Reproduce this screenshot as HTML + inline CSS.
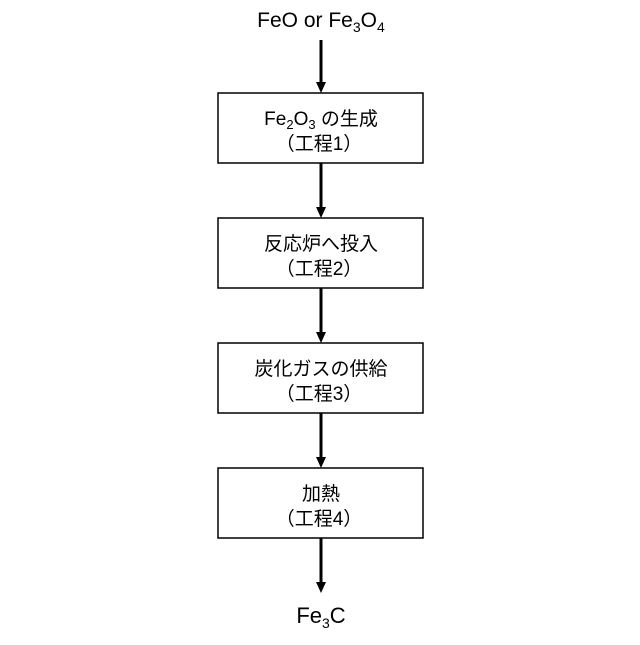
<!DOCTYPE html>
<html><head><meta charset="utf-8"><style>
body{margin:0;background:#fff;}
svg text{font-family:"Liberation Sans","Noto Sans CJK JP",sans-serif;fill:#000;}
</style></head><body>
<svg width="640" height="640" viewBox="0 0 640 640" xmlns="http://www.w3.org/2000/svg">
<g stroke="#000" stroke-width="3">
<line x1="321" y1="40" x2="321" y2="84"/>
<line x1="321" y1="163" x2="321" y2="209"/>
<line x1="321" y1="288" x2="321" y2="334"/>
<line x1="321" y1="413" x2="321" y2="459"/>
<line x1="321" y1="538" x2="321" y2="584"/>
</g>
<g fill="#000">
<polygon points="316,82 326,82 321,93"/>
<polygon points="316,207 326,207 321,218"/>
<polygon points="316,332 326,332 321,343"/>
<polygon points="316,457 326,457 321,468"/>
<polygon points="316,582 326,582 321,593"/>
</g>
<g fill="#fff" stroke="#000" stroke-width="1.5">
<rect x="218" y="93" width="205" height="70"/>
<rect x="218" y="218" width="205" height="70"/>
<rect x="218" y="343" width="205" height="70"/>
<rect x="218" y="468" width="205" height="70"/>
</g>
<text x="321" y="27" font-size="21" text-anchor="middle">FeO or Fe<tspan font-size="14" dy="5">3</tspan><tspan dy="-5">O</tspan><tspan font-size="14" dy="5">4</tspan></text>
<g font-size="19" text-anchor="middle">
<text x="321" y="125">Fe<tspan font-size="13" dy="4">2</tspan><tspan dy="-4">O</tspan><tspan font-size="13" dy="4">3</tspan><tspan dy="-4"> の生成</tspan></text>
<text x="319" y="150">（工程1）</text>
<text x="321" y="250">反応炉へ投入</text>
<text x="319" y="275">（工程2）</text>
<text x="321" y="375">炭化ガスの供給</text>
<text x="319" y="400">（工程3）</text>
<text x="321" y="500">加熱</text>
<text x="319" y="525">（工程4）</text>
</g>
<text x="321" y="623" font-size="22" text-anchor="middle">Fe<tspan font-size="14" dy="5">3</tspan><tspan dy="-5">C</tspan></text>
</svg>
</body></html>
